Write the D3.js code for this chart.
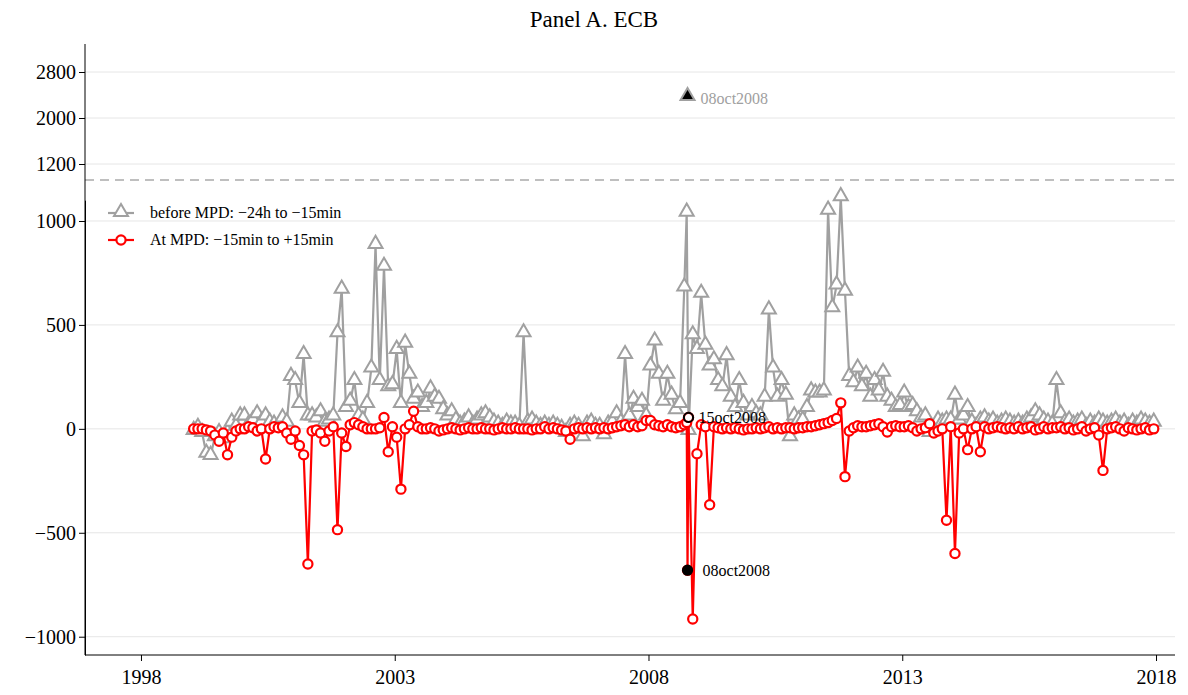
<!DOCTYPE html>
<html><head><meta charset="utf-8">
<script src="https://cdn.jsdelivr.net/npm/d3@7"></script>
<style>body{margin:0;background:#fff}text{font-family:"Liberation Serif","DejaVu Serif",serif}</style>
</head><body><svg id="c" width="1188" height="695"></svg>
<script>
const years = d3.range(1999, 2018);
const dates = [];
years.forEach(y => {
  for (let m = 1; m <= 12; m++) {
    const mm = String(m).padStart(2, "0");
    if (y === 2008 && m === 10) { dates.push("2008-10-02", "2008-10-08", "2008-10-15"); }
    else dates.push(y + "-" + mm);
  }
});
// before MPD: -24h to -15min (null = off-scale, plotted separately)
const beforeMPD = [
  -10,5,-20,-120,-130,-40,-20,-50,-20,30,10,60,
  60,20,40,70,30,60,30,20,10,50,30,250,
  230,120,355,60,60,50,80,30,40,60,460,670,
  100,130,230,60,40,120,290,885,230,780,200,210,
  380,120,410,260,140,170,100,120,190,150,140,90,
  60,80,40,20,30,50,20,40,60,70,50,30,
  20,10,30,20,20,10,460,30,40,20,10,20,
  10,20,10,0,-20,10,20,10,-40,20,30,10,
  10,-30,20,30,70,30,355,60,140,100,130,60,
  300,420,260,130,260,160,90,120,680,1040,null,-10,450,380,
  650,400,300,330,230,200,350,150,100,230,120,60,
  100,70,60,150,570,290,150,230,160,-40,60,40,
  40,100,180,170,170,180,1050,580,690,1115,660,250,
  220,290,200,260,150,230,180,270,150,130,100,110,
  170,100,110,80,50,60,-20,0,40,30,40,40,
  160,40,60,100,30,10,40,50,30,40,20,30,
  40,30,20,30,20,40,50,80,60,40,30,20,
  230,70,30,40,20,30,40,10,30,20,40,30,
  20,30,40,20,30,10,30,20,40,30,20,30
];
// At MPD: -15min to +15min
const atMPD = [
  0,0,0,-5,-10,-30,-60,-20,-125,-40,-10,0,
  0,10,5,-10,0,-145,0,10,5,10,-20,-50,
  -10,-80,-125,-650,-10,-5,-20,-60,-10,10,-485,-20,
  -85,20,30,20,10,0,0,0,5,55,-110,10,
  -40,-290,0,20,85,10,0,0,5,0,-10,-5,
  0,5,0,-5,0,5,0,0,5,0,0,-5,
  0,5,0,0,5,0,0,0,-5,0,0,10,
  0,5,0,-5,-10,-50,0,5,0,5,0,5,
  0,5,0,5,10,15,20,10,20,10,15,40,
  40,20,15,10,20,10,5,10,20,30,-680,55,-915,-120,
  20,10,-365,10,5,0,5,0,5,0,-5,0,
  0,5,0,5,10,0,5,0,5,5,0,5,
  5,10,10,15,20,25,30,40,50,125,-230,-10,
  5,15,10,10,15,20,25,10,-15,10,15,10,
  10,15,5,-10,0,5,25,-20,-10,0,-440,10,
  -600,-20,0,-100,0,10,-110,10,0,5,10,5,
  0,5,0,10,0,5,10,-5,0,10,0,5,
  5,10,0,5,-5,0,10,-10,0,5,-30,-200,
  0,5,10,0,-10,5,0,-5,0,5,-5,0
];
const outlierBefore = {date: "2008-10-08", value: 2365, label: "08oct2008"};
const outlierAt = {date: "2008-10-08", value: -680, label: "08oct2008"};
const markAt = {date: "2008-10-15", value: 55, label: "15oct2008"};
const lowerTicks = [-1000, -500, 0, 500, 1000];
const upperTicks = [1200, 2000, 2800];
const xTicks = [1998, 2003, 2008, 2013, 2018];

function toYear(s) {
  const p = s.split("-").map(Number);
  const d = p[2] || 15;
  return p[0] + (p[1] - 1) / 12 + (d - 1) / 365;
}
const svg = d3.select("#c");
const L = 85, R = 1175, T = 44, B = 655;
const x = d3.scaleLinear().domain([1996.897, 2018.374]).range([L, R]);
const yLow = d3.scaleLinear().domain([-1088, 1100]).range([655, 200.2]);
const yUp = d3.scaleLinear().domain([1200, 2800]).range([164, 72]);
const y = v => v > 1150 ? yUp(v) : yLow(v);

svg.append("g").selectAll("line").data(lowerTicks).join("line")
  .attr("x1", L).attr("x2", R).attr("y1", d => yLow(d)).attr("y2", d => yLow(d))
  .attr("stroke", "#e6e6e6").attr("stroke-width", 1);
svg.append("g").selectAll("line").data(upperTicks).join("line")
  .attr("x1", L).attr("x2", R).attr("y1", d => yUp(d)).attr("y2", d => yUp(d))
  .attr("stroke", "#e6e6e6").attr("stroke-width", 1);
svg.append("line").attr("x1", L).attr("x2", R).attr("y1", 180).attr("y2", 180)
  .attr("stroke", "#aaa").attr("stroke-width", 1.6).attr("stroke-dasharray", "9,6");

const ax = svg.append("g").attr("transform", `translate(0,${B})`)
  .call(d3.axisBottom(x).tickValues(xTicks).tickFormat(d3.format("d")).tickSize(6).tickSizeOuter(0));
const ayL = svg.append("g").attr("transform", `translate(${L},0)`)
  .call(d3.axisLeft(yLow).tickValues(lowerTicks).tickFormat(d => d < 0 ? "\u2212" + Math.abs(d) : d).tickSize(6).tickSizeOuter(0));
const ayU = svg.append("g").attr("transform", `translate(${L},0)`)
  .call(d3.axisLeft(yUp).tickValues(upperTicks).tickFormat(d3.format("d")).tickSize(6).tickSizeOuter(0));
ayU.select(".domain").remove();
svg.append("line").attr("x1", L).attr("x2", L).attr("y1", T).attr("y2", B).attr("stroke", "#000");
ax.select(".domain").attr("d", `M${L},0H${R}`);
[ax, ayL, ayU].forEach(g => {
  g.selectAll("text").attr("font-size", 20).attr("fill", "#000")
    .style("font-family", "'Liberation Serif',serif");
  g.selectAll("line,path").attr("stroke", "#000");
});
ax.selectAll("text").attr("dy", "1.0em");

const rows = dates.map((d, i) => ({t: toYear(d), b: beforeMPD[i], a: atMPD[i], d}));
const grey = "#a0a0a0", red = "#ff0000";
const bRows = rows.filter(r => r.b !== null);
svg.append("path").datum(bRows)
  .attr("d", d3.line().x(r => x(r.t)).y(r => y(r.b)))
  .attr("fill", "none").attr("stroke", grey).attr("stroke-width", 2.2);
const tri = d3.symbol().type(d3.symbolTriangle).size(85);
svg.append("g").selectAll("path").data(bRows).join("path")
  .attr("d", tri).attr("transform", r => `translate(${x(r.t)},${y(r.b) - 1})`)
  .attr("fill", "white").attr("stroke", grey).attr("stroke-width", 2);

svg.append("path").datum(rows)
  .attr("d", d3.line().x(r => x(r.t)).y(r => y(r.a)))
  .attr("fill", "none").attr("stroke", red).attr("stroke-width", 2.2);
svg.append("g").selectAll("circle").data(rows).join("circle")
  .attr("cx", r => x(r.t)).attr("cy", r => y(r.a)).attr("r", 4.6)
  .attr("fill", "white").attr("stroke", red).attr("stroke-width", 2.2);

const ob = {t: toYear(outlierBefore.date), v: outlierBefore.value};
svg.append("path").attr("d", tri).attr("transform", `translate(${x(ob.t)},${y(ob.v) - 1})`)
  .attr("fill", "#000").attr("stroke", grey).attr("stroke-width", 2);
svg.append("text").attr("x", x(ob.t) + 13).attr("y", y(ob.v) + 7).text(outlierBefore.label)
  .attr("font-size", 16).attr("fill", grey);
const ma = {t: toYear(markAt.date), v: markAt.value};
svg.append("circle").attr("cx", x(ma.t)).attr("cy", y(ma.v)).attr("r", 4.6)
  .attr("fill", "none").attr("stroke", "#000").attr("stroke-width", 2);
svg.append("text").attr("x", x(ma.t) + 10).attr("y", y(ma.v) + 6).text(markAt.label)
  .attr("font-size", 16).attr("fill", "#000");
const oa = {t: toYear(outlierAt.date), v: outlierAt.value};
svg.append("circle").attr("cx", x(oa.t)).attr("cy", y(oa.v)).attr("r", 4.6)
  .attr("fill", "#000").attr("stroke", "#000").attr("stroke-width", 2);
svg.append("text").attr("x", x(oa.t) + 15).attr("y", y(oa.v) + 6).text(outlierAt.label)
  .attr("font-size", 16).attr("fill", "#000");

const lg = svg.append("g");
lg.append("line").attr("x1", 108).attr("x2", 134).attr("y1", 213).attr("y2", 213).attr("stroke", grey).attr("stroke-width", 2.2);
lg.append("path").attr("d", tri).attr("transform", "translate(121,212)").attr("fill", "white").attr("stroke", grey).attr("stroke-width", 2);
lg.append("text").attr("x", 150).attr("y", 218).text("before MPD: \u221224h to \u221215min").attr("font-size", 16);
lg.append("line").attr("x1", 108).attr("x2", 134).attr("y1", 240).attr("y2", 240).attr("stroke", red).attr("stroke-width", 2.2);
lg.append("circle").attr("cx", 121).attr("cy", 240).attr("r", 4.6).attr("fill", "white").attr("stroke", red).attr("stroke-width", 2.2);
lg.append("text").attr("x", 150).attr("y", 245).text("At MPD: \u221215min to +15min").attr("font-size", 16);

svg.append("text").attr("x", 594).attr("y", 27).attr("text-anchor", "middle")
  .attr("font-size", 23).text("Panel A. ECB");
</script></body></html>
